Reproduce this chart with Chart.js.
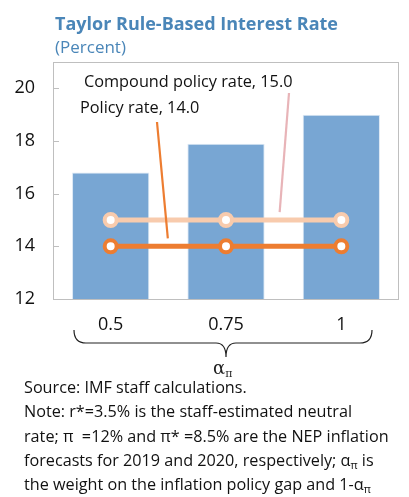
<!DOCTYPE html>
<html>
<head>
<meta charset="utf-8">
<script src="https://cdn.jsdelivr.net/npm/chart.js@4"></script>
<style>
  body { margin: 0; background: #fff; font-family: "Open Sans", "Noto Sans", sans-serif; }
  #wrap { position: relative; width: 409px; height: 497px; overflow: hidden; }
  #chart { position: absolute; left: 0; top: 0; }
  .title { position: absolute; left: 55px; top: 11px; font-size: 18px; font-weight: bold; color: #4A86B8; }
  .sub { position: absolute; left: 55px; top: 35px; font-size: 17px; color: #4A86B8; }
  .axisname { position: absolute; left: 213px; top: 357px; font-size: 18px; color: #222; font-family: "DejaVu Serif", serif; }
  .note { position: absolute; left: 24px; top: 375px; width: 400px; font-size: 16.2px; line-height: 24.3px; color: #111; white-space: nowrap; }
  sub { font-size: 11px; line-height: 0; vertical-align: -3px; }
</style>
</head>
<body>
<div id="wrap">
  <canvas id="chart" width="409" height="497"></canvas>
  <div class="title">Taylor Rule-Based Interest Rate</div>
  <div class="sub">(Percent)</div>
  <div class="axisname">α<sub>π</sub></div>
  <div class="note">Source: IMF staff calculations.<br>Note: r*=3.5% is the staff-estimated neutral<br>rate; π&nbsp;&nbsp;=12% and π* =8.5% are the NEP inflation<br>forecasts for 2019 and 2020, respectively; α<sub>π</sub> is<br>the weight on the inflation policy gap and 1-α<sub>π</sub><br>is the weight on the output gap.</div>
</div>
<script>
// データ
const categories = ['0.5', '0.75', '1'];
const taylorRate = [16.8, 17.9, 19.0];
const compoundRate = [15.0, 15.0, 15.0];
const policyRate = [14.0, 14.0, 14.0];
const yTicks = [12, 14, 16, 18, 20];

const FONT = '"Open Sans", "Noto Sans", sans-serif';

// 枠線・目盛り・注記・波括弧を描くプラグイン
const decorPlugin = {
    id: 'decor',
    afterDraw(chart) {
        const ctx = chart.ctx;
        const a = chart.chartArea;
        const x = chart.scales.x;
        const y = chart.scales.y;
        ctx.save();
        // 枠
        ctx.strokeStyle = '#BFBFBF';
        ctx.lineWidth = 1;
        ctx.strokeRect(a.left + 0.5, a.top + 0.5, a.right - a.left - 1, a.bottom - a.top);
        yTicks.forEach(v => {
            const py = Math.round(y.getPixelForValue(v)) + 0.5;
            ctx.beginPath();
            ctx.moveTo(a.left, py);
            ctx.lineTo(a.left + 6, py);
            ctx.stroke();
        });

        // 注記ラベル
        ctx.fillStyle = '#111';
        ctx.font = '16.3px ' + FONT;
        ctx.textBaseline = 'middle';
        ctx.fillText('Compound policy rate, 15.0', 84, 82);
        ctx.fillText('Policy rate, 14.0', 80, 108);

        // 引き出し線
        const mid1 = (x.getPixelForValue(0) + x.getPixelForValue(1)) / 2;
        const mid2 = (x.getPixelForValue(1) + x.getPixelForValue(2)) / 2;
        ctx.lineWidth = 2.2;
        ctx.strokeStyle = '#ED7D31';
        ctx.beginPath();
        ctx.moveTo(157, 122);
        ctx.lineTo(mid1 - 0.5, y.getPixelForValue(14.3));
        ctx.stroke();
        ctx.strokeStyle = '#E8B4B8';
        ctx.beginPath();
        ctx.moveTo(289, 93);
        ctx.lineTo(mid2 - 4, y.getPixelForValue(15.3));
        ctx.stroke();

        // 波括弧
        const l = 74, r = 372, c = x.getPixelForValue(1);
        const top = 330, base = 343, tip = 357;
        ctx.strokeStyle = '#222';
        ctx.lineWidth = 1.2;
        ctx.beginPath();
        ctx.moveTo(l, top);
        ctx.quadraticCurveTo(l, base, l + 12, base);
        ctx.lineTo(c - 10, base);
        ctx.quadraticCurveTo(c, base, c, tip);
        ctx.quadraticCurveTo(c, base, c + 10, base);
        ctx.lineTo(r - 12, base);
        ctx.quadraticCurveTo(r, base, r, top);
        ctx.stroke();
        ctx.restore();
    }
};

new Chart(document.getElementById('chart').getContext('2d'), {
    data: {
        labels: categories,
        datasets: [
            {
                type: 'line',
                label: 'Policy rate',
                data: policyRate,
                borderColor: '#ED7D31',
                borderWidth: 5,
                pointRadius: 6,
                pointBorderWidth: 4,
                pointBorderColor: '#ED7D31',
                pointBackgroundColor: '#FFFFFF',
                order: 1
            },
            {
                type: 'line',
                label: 'Compound policy rate',
                data: compoundRate,
                borderColor: '#F8CBAD',
                borderWidth: 5,
                pointRadius: 6,
                pointBorderWidth: 4,
                pointBorderColor: '#F8CBAD',
                pointBackgroundColor: '#FFFFFF',
                order: 2
            },
            {
                type: 'bar',
                label: 'Taylor rule',
                data: taylorRate,
                backgroundColor: '#78A6D3',
                borderColor: '#DCE8F4',
                borderWidth: { top: 1, left: 1, right: 1, bottom: 0 },
                categoryPercentage: 0.67,
                barPercentage: 1,
                order: 3
            }
        ]
    },
    options: {
        responsive: false,
        animation: false,
        layout: { padding: { top: 62, right: 2, bottom: 148, left: 0 } },
        plugins: { legend: { display: false }, tooltip: { enabled: false } },
        scales: {
            x: {
                grid: { display: false, drawTicks: false },
                border: { display: false },
                ticks: { color: '#111', font: { size: 18, family: FONT }, padding: 15 },
                afterFit: s => { s.height = 50; }
            },
            y: {
                min: 12,
                max: 21,
                afterBuildTicks: s => { s.ticks = yTicks.map(v => ({ value: v })); },
                grid: { display: false, drawTicks: false },
                border: { display: false },
                ticks: { color: '#111', font: { size: 18, family: FONT }, padding: 18 },
                afterFit: s => { s.width = 53; }
            }
        }
    },
    plugins: [decorPlugin]
});
</script>
</body>
</html>
